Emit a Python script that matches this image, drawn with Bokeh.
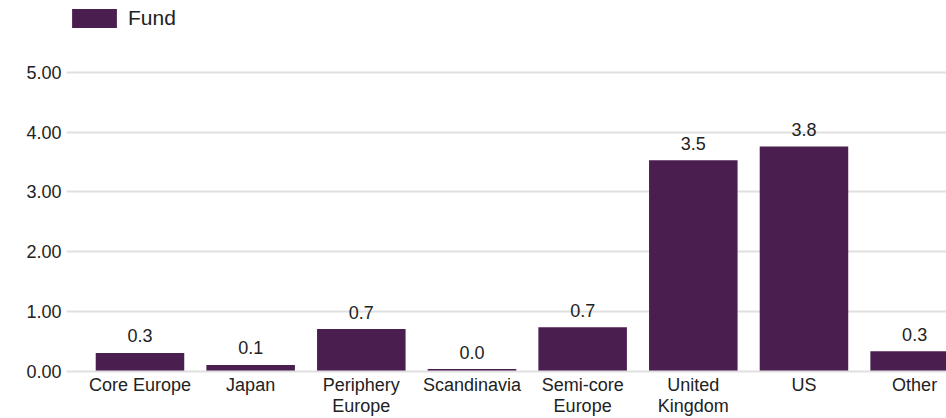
from bokeh.plotting import figure
from bokeh.models import (Range1d, FixedTicker, PrintfTickFormatter, Legend,
                          LegendItem, ColumnDataSource)
from bokeh.core.properties import value
from bokeh.embed import file_html
from bokeh.resources import INLINE

# Regional allocation of the fund
regions = ["Core Europe", "Japan", "Periphery\nEurope", "Scandinavia",
           "Semi-core\nEurope", "United\nKingdom", "US", "Other"]
fund = [0.31, 0.11, 0.71, 0.04, 0.74, 3.53, 3.76, 0.34]
y_ticks = [0, 1, 2, 3, 4, 5]

BAR = "#4b1e50"
GRID = "#e0e0e0"
FONT = "Liberation Sans"
TEXT = "#222222"

xs = list(range(len(regions)))
src = ColumnDataSource(dict(x=xs, top=fund, label=[f"{v:.1f}" for v in fund]))

p = figure(width=946, height=418, output_backend="svg", toolbar_location=None,
           title=None, x_range=Range1d(-0.664, 7.288), y_range=Range1d(0, 6.2),
           min_border_left=66, min_border_right=0, min_border_top=0,
           min_border_bottom=46)
p.outline_line_color = None
p.background_fill_color = "white"
p.border_fill_color = "white"

bars = p.vbar(x="x", top="top", width=0.8, source=src, fill_color=BAR,
              line_color=None)

p.text(x="x", y="top", text="label", source=src, text_align="center",
       text_baseline="alphabetic", y_offset=-17, text_font=value(FONT),
       text_font_size="18px", text_color=TEXT)

# x axis: category names at integer positions
p.xaxis.ticker = FixedTicker(ticks=xs)
p.xaxis.major_label_overrides = {i: r for i, r in enumerate(regions)}
p.xaxis.major_tick_line_color = None
p.xaxis.minor_tick_line_color = None
p.xaxis.major_tick_out = 0
p.xaxis.major_tick_in = 0
p.xaxis.axis_line_color = GRID
p.xaxis.axis_line_width = 2
p.xaxis.major_label_standoff = 3
p.xaxis.major_label_text_font = FONT
p.xaxis.major_label_text_font_size = "18px"
p.xaxis.major_label_text_line_height = 1.05
p.xaxis.major_label_text_color = TEXT

# y axis
p.yaxis.ticker = FixedTicker(ticks=y_ticks)
p.yaxis.formatter = PrintfTickFormatter(format="%.2f")
p.yaxis.axis_line_color = None
p.yaxis.major_tick_line_color = None
p.yaxis.minor_tick_line_color = None
p.yaxis.major_tick_out = 0
p.yaxis.major_tick_in = 0
p.yaxis.major_label_standoff = 5
p.yaxis.major_label_text_font = FONT
p.yaxis.major_label_text_font_size = "18px"
p.yaxis.major_label_text_color = TEXT

p.xgrid.grid_line_color = None
p.ygrid.ticker = FixedTicker(ticks=y_ticks)
p.ygrid.grid_line_color = GRID
p.ygrid.grid_line_width = 2

# legend swatch is drawn inset by 10% of its box, so the box is sized up
legend = Legend(items=[LegendItem(label="Fund", renderers=[bars])],
                location=(0, 341), orientation="horizontal",
                glyph_width=56, glyph_height=24, label_height=24,
                label_standoff=6, padding=0, margin=0, spacing=0,
                border_line_color=None, background_fill_alpha=0,
                label_text_font=FONT, label_text_font_size="21px",
                label_text_color=TEXT)
p.add_layout(legend)

open("out.html", "w").write(file_html(p, INLINE))
